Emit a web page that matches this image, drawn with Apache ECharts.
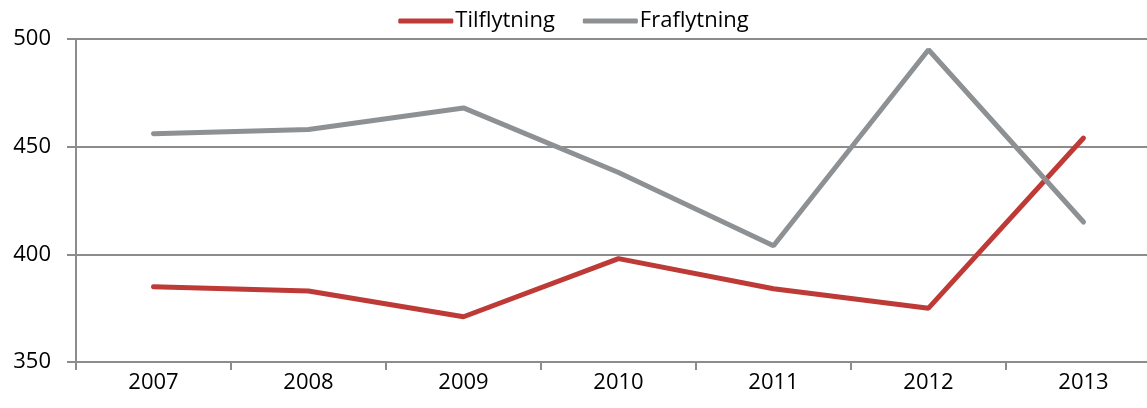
<!DOCTYPE html>
<html><head><meta charset="utf-8">
<script src="https://cdn.jsdelivr.net/npm/echarts@6/dist/echarts.min.js"></script>
<style>html,body{margin:0;padding:0;background:#fff}#c{width:1147px;height:408px}</style>
</head><body><div id="c"></div>
<script>
const years = ['2007','2008','2009','2010','2011','2012','2013'];
const tilflytning = [385, 383, 371, 398, 384, 375, 454];
const fraflytning = [456, 458, 468, 438, 404, 495, 415];
const chart = echarts.init(document.getElementById('c'));
const font = 'Open Sans';
chart.setOption({
  animation: false,
  legend: {
    top: 5, left: 'center', itemWidth: 55, itemHeight: 5, itemGap: 28,
    icon: 'roundRect',
    textStyle: {fontFamily: font, fontSize: 22, color: '#000', padding: [0,0,0,-3]},
    data: ['Tilflytning', 'Fraflytning']
  },
  grid: {left: 76, right: -14, top: 39, bottom: 46, outerBoundsMode: 'none', containLabel: false},
  xAxis: {
    type: 'category', data: years, boundaryGap: true,
    axisLine: {lineStyle: {color: '#8c8c8c', width: 2}},
    axisTick: {show: true, length: 8, lineStyle: {color: '#8c8c8c', width: 2}},
    axisLabel: {fontFamily: font, fontSize: 22, color: '#000', margin: 10}
  },
  yAxis: {
    type: 'value', min: 350, max: 500, interval: 50,
    axisLine: {show: true, lineStyle: {color: '#8c8c8c', width: 2}},
    axisTick: {show: true, length: 9, lineStyle: {color: '#8c8c8c', width: 2}},
    splitLine: {lineStyle: {color: '#8c8c8c', width: 2}},
    axisLabel: {fontFamily: font, fontSize: 22, color: '#000', margin: 25}
  },
  series: [
    {name: 'Tilflytning', type: 'line', data: tilflytning, symbol: 'none',
     lineStyle: {color: '#be3a37', width: 5, cap: 'round'}, itemStyle: {color: '#be3a37'}},
    {name: 'Fraflytning', type: 'line', data: fraflytning, symbol: 'none',
     lineStyle: {color: '#8e9194', width: 5, cap: 'round'}, itemStyle: {color: '#8e9194'}}
  ]
});
</script></body></html>
